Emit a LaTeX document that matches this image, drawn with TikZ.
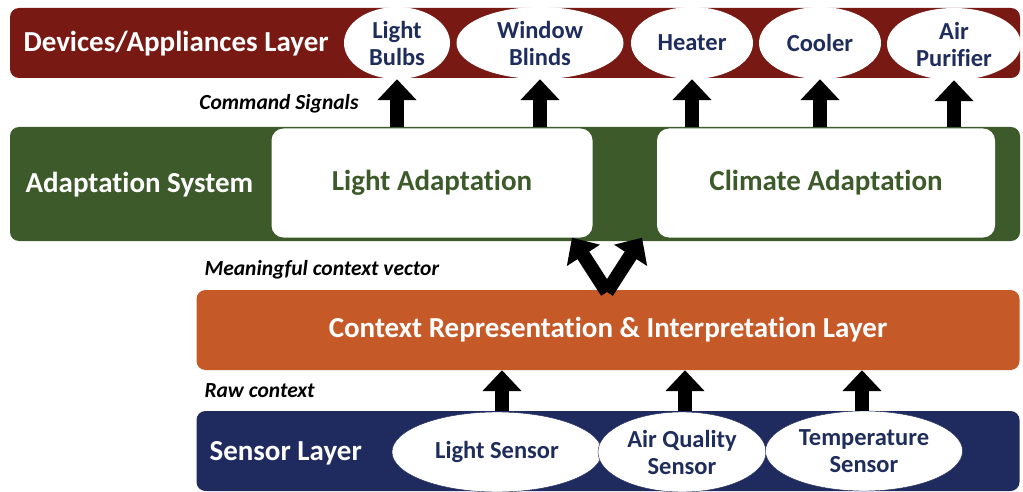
\documentclass[tikz,border=0pt]{standalone}
\usepackage{fontspec}
\setmainfont{Carlito}[Ligatures=NoCommon]
\usetikzlibrary{shapes.geometric,arrows.meta}
\definecolor{devred}{RGB}{120,25,20}
\definecolor{adgreen}{RGB}{61,90,42}
\definecolor{ctxorange}{RGB}{197,90,40}
\definecolor{sennavy}{RGB}{31,42,94}
\definecolor{itemnavy}{RGB}{31,45,92}
\tikzset{
  layer/.style={rectangle,rounded corners=9pt,inner sep=0pt},
  layertitle/.style={anchor=west,text=white,font=\fontsize{29}{32}\selectfont\bfseries},
  item/.style={ellipse,fill=white,inner sep=0pt,align=center,text=itemnavy,
    font=\fontsize{24.5}{27}\selectfont\bfseries},
  adbox/.style={rectangle,rounded corners=12pt,fill=white,inner sep=0pt,
    minimum height=109pt,text=adgreen,font=\fontsize{29}{32}\selectfont\bfseries},
  flowlabel/.style={font=\fontsize{21.5}{24}\selectfont\bfseries\itshape},
  blockarrow/.style={line width=14pt,-{Triangle[width=38pt,length=21pt]}}
}
\begin{document}
\begin{tikzpicture}[x=1pt,y=-1pt]
\useasboundingbox (0,0) rectangle (1023,492);
% devices layer
\node[layer,fill=devred,minimum width=1010pt,minimum height=70pt] (dev) at (515,43) {};
\node[layertitle] (devtitle) at (20,44) {Devices/Appliances Layer};
\node[item,minimum width=106pt,minimum height=72pt] (bulbs) at (397,43) {Light\\Bulbs};
\node[item,minimum width=167pt,minimum height=72pt] (blinds) at (540,43) {Window\\Blinds};
\node[item,minimum width=122pt,minimum height=72pt] (heater) at (692,43) {Heater};
\node[item,minimum width=122pt,minimum height=72pt] (cooler) at (820,43) {Cooler};
\node[item,minimum width=134pt,minimum height=72pt] (purifier) at (954,44) {Air\\Purifier};
\node[flowlabel,anchor=east] (cmdlabel) at (362,104) {Command Signals};
% adaptation system
\node[layer,fill=adgreen,minimum width=1010pt,minimum height=114pt] (adapt) at (515,184) {};
\node[layertitle] (adtitle) at (22,185) {Adaptation System};
\node[adbox,minimum width=321pt] (lightad) at (432,183) {Light Adaptation};
\node[adbox,minimum width=338pt] (climad) at (826,183) {Climate Adaptation};
\foreach \dv in {bulbs,blinds,heater,cooler,purifier}
  \draw[blockarrow] (\dv.south |- adapt.north) -- (\dv.south);
% context layer
\node[flowlabel,anchor=west] (vectlabel) at (201,270) {Meaningful context vector};
\node[layer,fill=ctxorange,minimum width=823pt,minimum height=80pt] (ctx) at (608,330) {};
\node[text=white,font=\fontsize{29}{32}\selectfont\bfseries] (ctxtitle) at (608,330) {Context Representation \& Interpretation Layer};
\coordinate (fork) at (607,292);
\draw[blockarrow] (fork) -- (lightad.south -| 572,0);
\draw[blockarrow] (fork) -- (climad.south -| 642,0);
% sensor layer
\node[flowlabel,anchor=west] (rawlabel) at (201,391) {Raw context};
\node[layer,fill=sennavy,minimum width=823pt,minimum height=80pt] (sen) at (608,451) {};
\node[layertitle] (sentitle) at (206,453) {Sensor Layer};
\node[item,draw=sennavy,minimum width=210pt,minimum height=80pt] (lsensor) at (497,452) {Light Sensor};
\node[item,draw=sennavy,minimum width=168pt,minimum height=80pt] (aqsensor) at (682,452) {Air Quality\\Sensor};
\node[item,draw=sennavy,minimum width=197pt,minimum height=80pt] (tsensor) at (864,451) {Temperature\\Sensor};
\draw[blockarrow] (502,0 |- sen.north) -- (502,0 |- ctx.south);
\draw[blockarrow] (685,0 |- sen.north) -- (685,0 |- ctx.south);
\draw[blockarrow] (862,0 |- sen.north) -- (862,0 |- ctx.south);
\end{tikzpicture}
\end{document}
